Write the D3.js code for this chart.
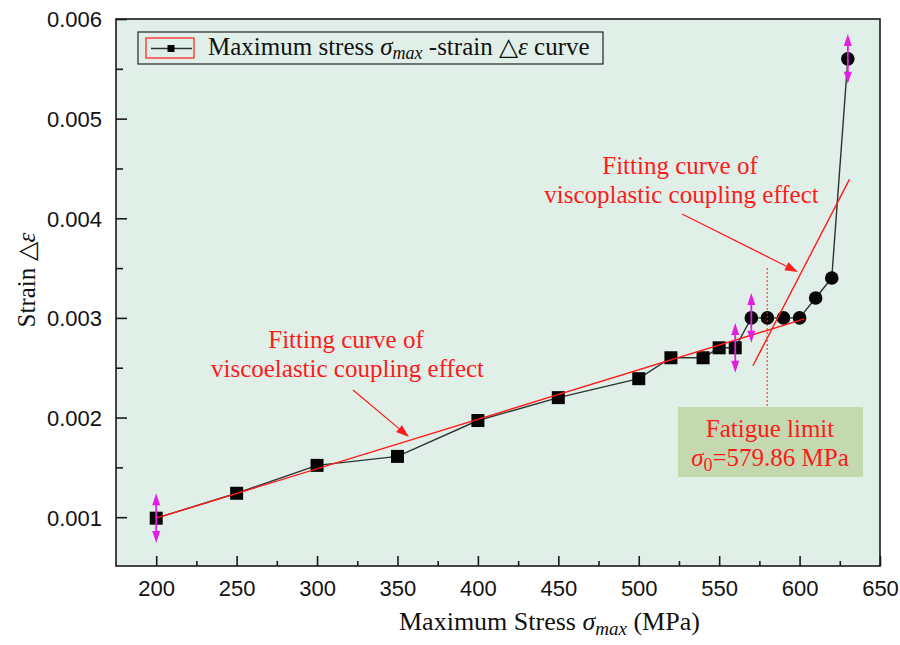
<!DOCTYPE html>
<html>
<head>
<meta charset="utf-8">
<script src="https://cdn.jsdelivr.net/npm/d3@7"></script>
<style>
  html, body { margin: 0; padding: 0; background: #ffffff; }
  svg { display: block; }
</style>
</head>
<body>
<svg id="chart" width="900" height="645"></svg>
<script>
// ---------- data ----------
const stress = [200, 250, 300, 350, 400, 450, 500, 520, 540, 550, 560, 570, 580, 590, 600, 610, 620, 630];
const strain = [0.00099, 0.00124, 0.00152, 0.00161, 0.00197, 0.00220, 0.00239, 0.00260, 0.00260, 0.00270, 0.00270,
                0.00300, 0.00300, 0.00300, 0.00300, 0.00320, 0.00340, 0.00560];
const circleFrom = 570;                 // points at or above this stress drawn as circles
const errorStress = [200, 560, 570, 630];
const errorHalf = 0.00025;
const fitElastic = [[200, 0.00099], [603, 0.00299]];
const fitPlastic = [[571, 0.00252], [631, 0.00439]];
const fatigueLimit = 579.86;
const xTicks = [200, 250, 300, 350, 400, 450, 500, 550, 600, 650];
const xMinor = [225, 275, 325, 375, 425, 475, 525, 575, 625];
const yTicks = [0.001, 0.002, 0.003, 0.004, 0.005, 0.006];
const yMinor = [0.0015, 0.0025, 0.0035, 0.0045, 0.0055];

// ---------- setup ----------
const svg = d3.select("#chart");
const L = 116, R = 880, T = 19, B = 566;
const x = d3.scaleLinear().domain([175, 650]).range([L, R]);
const y = d3.scaleLinear().domain([0.00051, 0.006]).range([B, T]);
const serif = "'Liberation Serif', 'Times New Roman', serif";
const sans = "'Liberation Sans', Arial, sans-serif";
const red = "#ff1a1a";
const magenta = "#e21ee2";

svg.append("rect").attr("x", L).attr("y", T).attr("width", R - L).attr("height", B - T)
  .attr("fill", "#e0f0e8");

// ---------- axes ----------
const xAxis = d3.axisBottom(x).tickValues(xTicks).tickSize(-10).tickPadding(14).tickFormat(d3.format("d"));
const gx = svg.append("g").attr("transform", `translate(0,${B})`).call(xAxis);
const xAxisMinor = d3.axisBottom(x).tickValues(xMinor).tickSize(-5).tickFormat("");
const gxm = svg.append("g").attr("transform", `translate(0,${B})`).call(xAxisMinor);

const yAxis = d3.axisLeft(y).tickValues(yTicks).tickSize(-11).tickPadding(14).tickFormat(d3.format(".3f"));
const gy = svg.append("g").attr("transform", `translate(${L},0)`).call(yAxis);
const yAxisMinor = d3.axisLeft(y).tickValues(yMinor).tickSize(-7).tickFormat("");
const gym = svg.append("g").attr("transform", `translate(${L},0)`).call(yAxisMinor);

[gx, gxm, gy, gym].forEach(g => {
  g.select(".domain").remove();
  g.selectAll(".tick line").attr("stroke", "#1a1a1a").attr("stroke-width", 1.6);
  g.selectAll(".tick text").attr("font-family", sans).attr("font-size", 22).attr("fill", "#111");
});
gy.selectAll(".tick text").attr("dy", "0.36em");

// ---------- data line & markers ----------
const pts = stress.map((s, i) => ({ s, e: strain[i] }));
svg.append("path").datum(pts)
  .attr("d", d3.line().x(d => x(d.s)).y(d => y(d.e)))
  .attr("fill", "none").attr("stroke", "#2b3535").attr("stroke-width", 1.4);

svg.selectAll("rect.sq").data(pts.filter(d => d.s < circleFrom)).enter().append("rect")
  .attr("class", "sq")
  .attr("x", d => x(d.s) - 6.5).attr("y", d => y(d.e) - 6.5)
  .attr("width", 13).attr("height", 13).attr("fill", "#050505");
svg.selectAll("circle.ci").data(pts.filter(d => d.s >= circleFrom)).enter().append("circle")
  .attr("class", "ci")
  .attr("cx", d => x(d.s)).attr("cy", d => y(d.e)).attr("r", 6.8).attr("fill", "#050505");

// ---------- fitting lines ----------
[fitElastic, fitPlastic].forEach(f => {
  svg.append("line")
    .attr("x1", x(f[0][0])).attr("y1", y(f[0][1]))
    .attr("x2", x(f[1][0])).attr("y2", y(f[1][1]))
    .attr("stroke", red).attr("stroke-width", 1.4);
});

// fatigue limit dotted line
svg.append("line")
  .attr("x1", x(fatigueLimit)).attr("x2", x(fatigueLimit))
  .attr("y1", 268).attr("y2", 407)
  .attr("stroke", red).attr("stroke-width", 1).attr("stroke-dasharray", "2,2");

// ---------- magenta double arrows ----------
errorStress.forEach(s => {
  const i = stress.indexOf(s);
  const cx = x(s);
  const yt = y(strain[i] + errorHalf), yb = y(strain[i] - errorHalf);
  const g = svg.append("g");
  g.append("line").attr("x1", cx).attr("x2", cx).attr("y1", yt + 4).attr("y2", yb - 4)
    .attr("stroke", magenta).attr("stroke-width", 1.8);
  g.append("path").attr("d", `M${cx},${yt} L${cx - 4},${yt + 12} L${cx + 4},${yt + 12} Z`).attr("fill", magenta);
  g.append("path").attr("d", `M${cx},${yb} L${cx - 4},${yb - 12} L${cx + 4},${yb - 12} Z`).attr("fill", magenta);
});

// ---------- annotations ----------
function redArrow(x1, y1, x2, y2) {
  const ang = Math.atan2(y2 - y1, x2 - x1);
  const len = 13, w = 4.5;
  const bx = x2 - len * Math.cos(ang), by = y2 - len * Math.sin(ang);
  svg.append("line").attr("x1", x1).attr("y1", y1).attr("x2", bx).attr("y2", by)
    .attr("stroke", red).attr("stroke-width", 1.2);
  svg.append("path")
    .attr("d", `M${x2},${y2} L${bx + w * Math.sin(ang)},${by - w * Math.cos(ang)} L${bx - w * Math.sin(ang)},${by + w * Math.cos(ang)} Z`)
    .attr("fill", red);
}

const ann = svg.append("g").attr("font-family", serif).attr("font-size", 25).attr("fill", red).attr("text-anchor", "middle");
ann.append("text").attr("x", 346).attr("y", 348).text("Fitting curve of");
ann.append("text").attr("x", 347.5).attr("y", 377).text("viscoelastic coupling effect");
ann.append("text").attr("x", 680).attr("y", 174).text("Fitting curve of");
ann.append("text").attr("x", 681.5).attr("y", 203).text("viscoplastic coupling effect");
redArrow(353, 390, 409, 437);
redArrow(682, 214, 798, 272);

// fatigue limit box
svg.append("rect").attr("x", 678).attr("y", 407).attr("width", 185).attr("height", 70).attr("fill", "#c4d9b0");
const fl = svg.append("g").attr("font-family", serif).attr("font-size", 25).attr("fill", red).attr("text-anchor", "middle");
fl.append("text").attr("x", 770).attr("y", 437).text("Fatigue limit");
const fl2 = fl.append("text").attr("x", 770).attr("y", 466);
fl2.append("tspan").attr("font-style", "italic").text("σ");
fl2.append("tspan").attr("font-size", 18).attr("dy", 5).text("0");
fl2.append("tspan").attr("dy", -5).text("=579.86 MPa");

// ---------- legend ----------
svg.append("rect").attr("x", 138).attr("y", 32).attr("width", 465).attr("height", 32)
  .attr("fill", "none").attr("stroke", "#222").attr("stroke-width", 1.2);
svg.append("rect").attr("x", 146).attr("y", 38).attr("width", 48).attr("height", 20)
  .attr("fill", "none").attr("stroke", red).attr("stroke-width", 1.2);
svg.append("line").attr("x1", 151).attr("x2", 192).attr("y1", 48.5).attr("y2", 48.5)
  .attr("stroke", "#2b3535").attr("stroke-width", 1.4);
svg.append("rect").attr("x", 167.5).attr("y", 45).attr("width", 7).attr("height", 7).attr("fill", "#050505");
const lt = svg.append("text").attr("x", 208).attr("y", 55).attr("font-family", serif).attr("font-size", 25)
  .attr("fill", "#111").attr("xml:space", "preserve");
lt.append("tspan").text("Maximum stress ");
lt.append("tspan").attr("font-style", "italic").text("σ");
lt.append("tspan").attr("font-style", "italic").attr("font-size", 18).attr("dy", 4).text("max");
lt.append("tspan").attr("dy", -4).text(" -strain △");
lt.append("tspan").attr("font-style", "italic").text("ε");
lt.append("tspan").text(" curve");

// ---------- axis titles ----------
const xt = svg.append("text").attr("x", 399).attr("y", 630).attr("font-family", serif).attr("font-size", 26)
  .attr("fill", "#111").attr("xml:space", "preserve");
xt.append("tspan").text("Maximum Stress ");
xt.append("tspan").attr("font-style", "italic").text("σ");
xt.append("tspan").attr("font-style", "italic").attr("font-size", 19).attr("dy", 5).text("max");
xt.append("tspan").attr("dy", -5).text(" (MPa)");

const yt = svg.append("text").attr("transform", "translate(35,280) rotate(-90)")
  .attr("text-anchor", "middle").attr("font-family", serif).attr("font-size", 25).attr("fill", "#111");
yt.append("tspan").text("Strain △");
yt.append("tspan").attr("font-style", "italic").text("ε");

// ---------- frame ----------
svg.append("rect").attr("x", L).attr("y", T).attr("width", R - L).attr("height", B - T)
  .attr("fill", "none").attr("stroke", "#1a1a1a").attr("stroke-width", 1.6);
</script>
</body>
</html>
